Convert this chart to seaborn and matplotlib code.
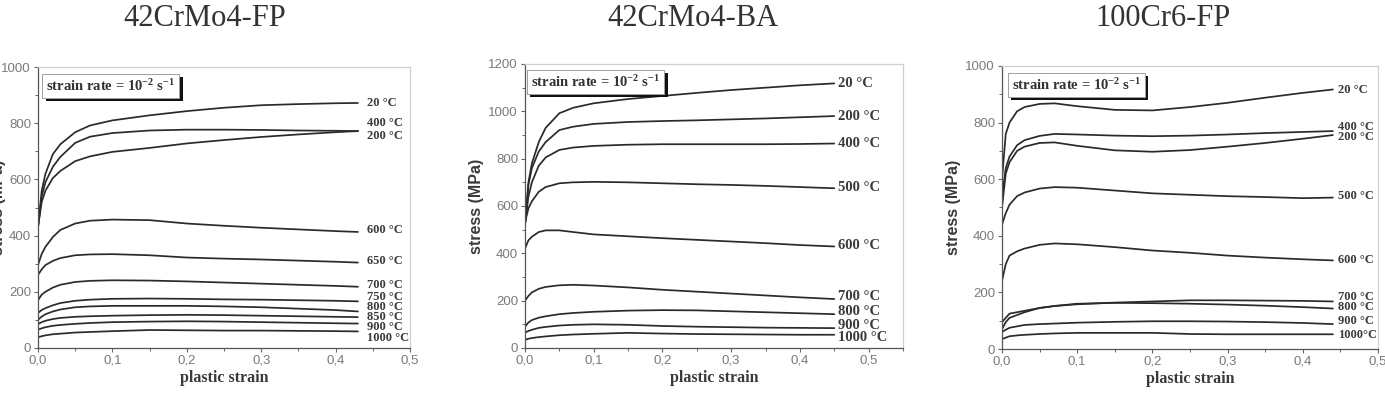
import numpy as np
import pandas as pd
import matplotlib
matplotlib.use("Agg")
import matplotlib.pyplot as plt
import matplotlib.patheffects as pe
from matplotlib.ticker import MultipleLocator, FuncFormatter
import seaborn as sns

# ---------------- data ----------------
titles = ["42CrMo4-FP", "42CrMo4-BA", "100Cr6-FP"]

strain_fp42 = [0, 0.005, 0.01, 0.02, 0.03, 0.05, 0.07, 0.1, 0.15, 0.2, 0.25, 0.3, 0.35, 0.4, 0.43]
temps_fp42 = ["20", "400", "200", "600", "650", "700", "750", "800", "850", "900", "1000"]
stress_fp42 = {
    "20":   [430, 560, 620, 690, 725, 768, 792, 810, 828, 843, 855, 864, 868, 871, 872],
    "400":  [430, 540, 590, 645, 680, 730, 752, 765, 774, 777, 777, 776, 774, 773, 772],
    "200":  [430, 520, 560, 605, 630, 665, 682, 698, 712, 728, 740, 751, 760, 768, 772],
    "600":  [295, 335, 360, 395, 420, 443, 453, 457, 455, 443, 435, 428, 422, 416, 413],
    "650":  [260, 280, 295, 310, 320, 330, 333, 334, 330, 322, 318, 315, 311, 307, 304],
    "700":  [170, 190, 200, 215, 225, 235, 239, 241, 240, 237, 233, 229, 225, 221, 218],
    "750":  [125, 135, 142, 152, 160, 168, 172, 175, 176, 175, 173, 172, 170, 168, 166],
    "800":  [100, 112, 120, 130, 137, 145, 148, 150, 150, 150, 148, 145, 140, 135, 130],
    "850":  [85, 92, 97, 103, 107, 111, 113, 115, 117, 118, 117, 115, 113, 111, 110],
    "900":  [65, 70, 74, 79, 82, 86, 89, 92, 94, 95, 94, 92, 90, 88, 87],
    "1000": [38, 42, 45, 49, 51, 55, 57, 60, 64, 63, 62, 62, 61, 60, 59],
}
labels_fp42 = ["20 °C", "400 °C", "200 °C", "600 °C", "650 °C", "700 °C", "750 °C",
               "800 °C", "850 °C", "900 °C", "1000 °C"]
label_y_fp42 = [873, 801, 756, 419, 309, 225, 182, 145, 110, 75, 37]

strain_ba42 = [0, 0.005, 0.01, 0.02, 0.03, 0.05, 0.07, 0.1, 0.15, 0.2, 0.25, 0.3, 0.35, 0.4, 0.45]
temps_ba42 = ["20", "200", "400", "500", "600", "700", "800", "900", "1000"]
stress_ba42 = {
    "20":   [520, 700, 780, 870, 930, 992, 1015, 1034, 1052, 1065, 1078, 1090, 1100, 1110, 1118],
    "200":  [520, 690, 760, 830, 870, 921, 935, 947, 955, 959, 962, 966, 970, 975, 980],
    "400":  [520, 640, 700, 770, 805, 837, 847, 854, 859, 861, 861, 861, 861, 862, 864],
    "500":  [530, 590, 620, 660, 680, 696, 700, 702, 700, 696, 692, 689, 685, 680, 675],
    "600":  [420, 455, 470, 490, 497, 497, 490, 480, 472, 464, 457, 450, 443, 435, 429],
    "700":  [200, 220, 235, 250, 258, 265, 267, 264, 256, 246, 238, 230, 222, 214, 207],
    "800":  [90, 108, 118, 128, 134, 143, 148, 153, 158, 160, 159, 155, 151, 147, 143],
    "900":  [65, 72, 77, 85, 89, 95, 98, 100, 98, 93, 90, 88, 86, 85, 84],
    "1000": [35, 39, 42, 46, 49, 54, 57, 60, 64, 61, 59, 58, 57, 56, 56],
}
labels_ba42 = ["20 °C", "200 °C", "400 °C", "500 °C", "600 °C", "700 °C", "800 °C",
               "900 °C", "1000 °C"]
label_y_ba42 = [1118, 980, 862, 677, 432, 218, 155, 97, 46]

strain_fp100 = [0, 0.005, 0.01, 0.02, 0.03, 0.05, 0.07, 0.1, 0.15, 0.2, 0.25, 0.3, 0.35, 0.4, 0.44]
temps_fp100 = ["20", "400", "200", "500", "600", "700", "800", "900", "1000"]
stress_fp100 = {
    "20":   [600, 760, 800, 840, 855, 866, 868, 858, 845, 843, 855, 870, 888, 905, 917],
    "400":  [540, 640, 680, 720, 738, 753, 760, 758, 754, 752, 754, 758, 763, 767, 770],
    "200":  [500, 620, 660, 700, 715, 728, 730, 718, 702, 697, 703, 715, 728, 743, 756],
    "500":  [440, 480, 510, 540, 553, 567, 572, 570, 560, 550, 545, 540, 537, 533, 535],
    "600":  [240, 300, 330, 345, 355, 368, 373, 370, 360, 348, 340, 330, 323, 317, 313],
    "700":  [95, 110, 125, 130, 135, 145, 152, 158, 164, 168, 172, 172, 171, 170, 168],
    "800":  [70, 95, 110, 120, 130, 145, 152, 160, 163, 162, 160, 157, 153, 148, 143],
    "900":  [60, 68, 75, 80, 85, 88, 90, 93, 96, 98, 98, 97, 95, 92, 88],
    "1000": [35, 40, 45, 48, 50, 53, 55, 57, 57, 57, 53, 52, 52, 52, 52],
}
labels_fp100 = ["20 °C", "400 °C", "200 °C", "500 °C", "600 °C", "700 °C", "800 °C",
                "900 °C", "1000°C"]
label_y_fp100 = [915, 786, 748, 539, 313, 185, 148, 98, 51]

# ---------------- style ----------------
sns.set_theme(style="white")
plt.rcParams["font.family"] = ["Liberation Sans", "DejaVu Sans"]
plt.rcParams["mathtext.fontset"] = "custom"
plt.rcParams["mathtext.rm"] = "Liberation Serif"
plt.rcParams["mathtext.bf"] = "Liberation Serif:bold"
plt.rcParams["mathtext.it"] = "Liberation Serif:italic"

SERIF = ["Liberation Serif", "DejaVu Serif"]

W, H = 1385, 398
fig = plt.figure(figsize=(W / 100, H / 100), dpi=100)

def fr(l, r, t, b):
    return [l / W, 1 - b / H, (r - l) / W, (b - t) / H]

panels = [
    dict(rect=fr(38, 410, 67, 348), strain=strain_fp42, temps=temps_fp42, stress=stress_fp42,
         labels=labels_fp42, ly=label_y_fp42, lx=0.442, ymax=1000, xmax=0.5, lfs=9,
         title_x=205, box=(0.022, 0.962), ylpad=-3),
    dict(rect=fr(525, 903, 64, 348), strain=strain_ba42, temps=temps_ba42, stress=stress_ba42,
         labels=labels_ba42, ly=label_y_ba42, lx=0.456, ymax=1200, xmax=0.55, lfs=10.5,
         title_x=693, box=(0.016, 0.965), ylpad=3),
    dict(rect=fr(1002, 1378, 66, 349), strain=strain_fp100, temps=temps_fp100, stress=stress_fp100,
         labels=labels_fp100, ly=label_y_fp100, lx=0.447, ymax=1000, xmax=0.5, lfs=9,
         title_x=1163, box=(0.026, 0.962), ylpad=3),
]

comma = FuncFormatter(lambda v, p: f"{v:.1f}".replace(".", ","))

for i, p in enumerate(panels):
    ax = fig.add_axes(p["rect"])
    rows = []
    for t in p["temps"]:
        for s, v in zip(p["strain"], p["stress"][t]):
            rows.append({"strain": s, "stress": v, "T": t})
    df = pd.DataFrame(rows)
    sns.lineplot(data=df, x="strain", y="stress", units="T", estimator=None,
                 color="#2a2a2a", lw=1.25, ax=ax, legend=False)
    for lab, yv in zip(p["labels"], p["ly"]):
        ax.text(p["lx"], yv, lab, fontsize=p["lfs"], fontweight="bold",
                family=SERIF, color="#3a3a3a", ha="left", va="center")
    ax.set_xlim(0, p["xmax"])
    ax.set_ylim(0, p["ymax"])
    ax.xaxis.set_major_locator(MultipleLocator(0.1))
    ax.xaxis.set_minor_locator(MultipleLocator(0.05))
    ax.yaxis.set_major_locator(MultipleLocator(200))
    ax.yaxis.set_minor_locator(MultipleLocator(100))
    ax.xaxis.set_major_formatter(comma)
    ax.tick_params(axis="both", which="both", direction="out", colors="#666666",
                   labelsize=9.5, labelcolor="#7a7a7a", bottom=True, left=True, pad=2)
    ax.tick_params(which="major", length=3, width=0.8)
    ax.tick_params(which="minor", length=2, width=0.7)
    for side in ["left", "bottom"]:
        ax.spines[side].set_color("#555555")
        ax.spines[side].set_linewidth(0.9)
    for side in ["top", "right"]:
        ax.spines[side].set_color("#d0d0d0")
        ax.spines[side].set_linewidth(0.9)
    ax.set_xlabel("plastic strain", fontsize=11.5, fontweight="bold",
                  family=SERIF, color="#3a3a3a", labelpad=2)
    ax.set_ylabel("stress (MPa)", fontsize=11.5, fontweight="bold", color="#3a3a3a",
                  labelpad=p["ylpad"])
    txt = ax.text(p["box"][0], p["box"][1],
                  r"strain rate = 10$^{\mathbf{-2}}$ s$^{\mathbf{-1}}$",
                  transform=ax.transAxes, fontsize=10.5, fontweight="bold",
                  family=SERIF, color="#333333", ha="left", va="top",
                  bbox=dict(boxstyle="square,pad=0.28", fc="white", ec="#999999", lw=0.6))
    txt.get_bbox_patch().set_path_effects([
        pe.withSimplePatchShadow(offset=(2.5, -2.5), shadow_rgbFace="#111111", alpha=1.0),
        pe.Normal()])
    fig.text(p["title_x"] / W, 1 - 18 / H, titles[i], fontsize=22,
             family=SERIF, color="#333333", ha="center", va="center")

fig.savefig("out.png", dpi=100, facecolor="white")
